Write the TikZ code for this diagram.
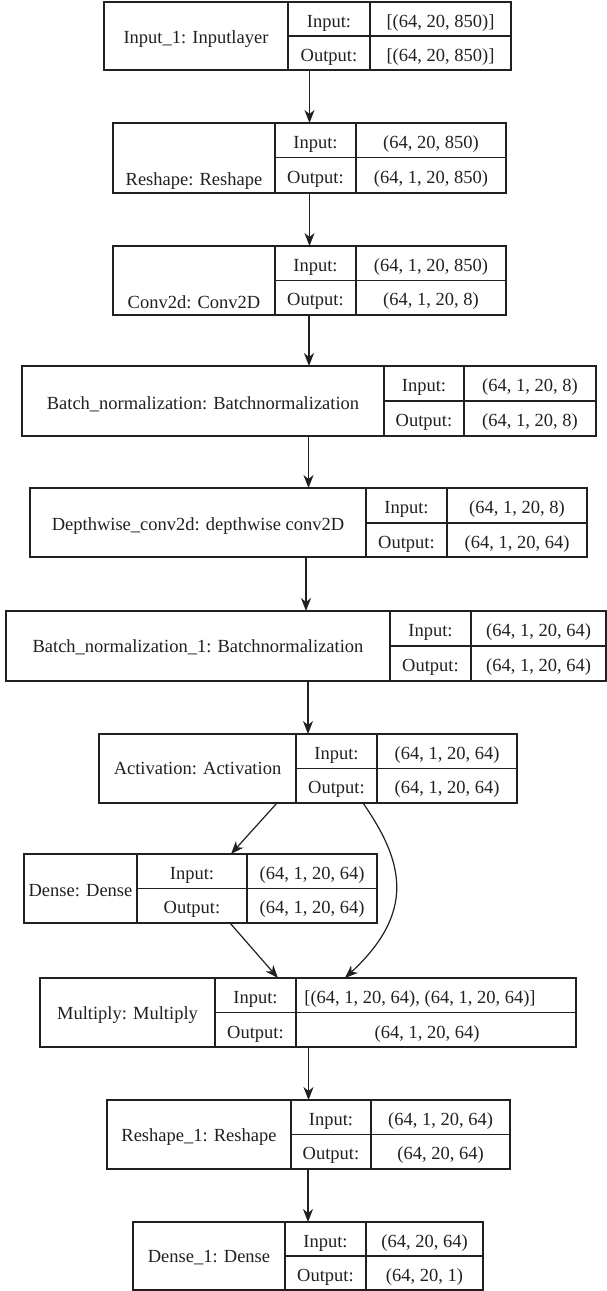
\documentclass[tikz,border=0pt]{standalone}
\usepackage{fontspec}
\setmainfont{Liberation Serif}
\usetikzlibrary{arrows.meta}
\definecolor{ink}{RGB}{35,31,32}
\tikzset{
  box/.style={rectangle, draw=ink, line width=1.3pt, inner sep=0pt, outer sep=0pt},
  cell/.style={draw=ink, line width=1.3pt},
  txt/.style={anchor=base, inner sep=0pt, outer sep=0pt, text=ink, font=\fontsize{18.5}{22}\selectfont},
  arr/.style={draw=ink, line width=1.2pt, -{Stealth[length=13pt,width=10pt,inset=4pt]}},
}
\newcommand{\lyrbox}[8]{%
  \def\lXa{#2}\def\lXb{#3}\def\lXc{#4}\def\lXd{#5}\def\lYa{#6}\def\lYm{#7}\def\lYb{#8}%
  \pgfmathsetmacro{\lyrW}{#5-#2}\pgfmathsetmacro{\lyrH}{#8-#6}%
  \node[box, minimum width=\lyrW pt, minimum height=\lyrH pt] (#1) at ({(#2+#5)/2},{(#6+#8)/2}) {};
  \draw[cell] (#3,#6) -- (#3,#8) (#4,#6) -- (#4,#8) (#3,#7) -- (#5,#7);
}
\newcommand{\lyrtext}[5]{%
  \node[txt] (#1t) at ({(\lXa+\lXb)/2},#2) {#3};
  \node[txt] (#1il) at ({(\lXb+\lXc)/2},{(\lYa+\lYm)/2+8}) {Input:};
  \node[txt] (#1ol) at ({(\lXb+\lXc)/2},{(\lYm+\lYb)/2+8}) {Output:};
  \node[txt] (#1iv) at ({(\lXc+\lXd)/2},{(\lYa+\lYm)/2+8}) {#4};
  \node[txt] (#1ov) at ({(\lXc+\lXd)/2},{(\lYm+\lYb)/2+8}) {#5};
}
\begin{document}
\begin{tikzpicture}[x=1pt,y=-1pt]
\useasboundingbox (0,0) rectangle (607,1291);

\lyrbox{L1}{104}{288}{370}{511}{2}{36}{70}
\lyrtext{L1}{43}{Input\_1: Inputlayer}{[(64, 20, 850)]}{[(64, 20, 850)]}

\lyrbox{L2}{113}{275}{356}{506}{123}{157.5}{193}
\lyrtext{L2}{185.5}{Reshape: Reshape}{(64, 20, 850)}{(64, 1, 20, 850)}

\lyrbox{L3}{113}{275}{356}{506}{246}{280.5}{315}
\lyrtext{L3}{308}{Conv2d: Conv2D}{(64, 1, 20, 850)}{(64, 1, 20, 8)}

\lyrbox{L4}{22}{384}{464}{596}{366}{401}{436}
\lyrtext{L4}{409}{Batch\_normalization: Batchnormalization}{(64, 1, 20, 8)}{(64, 1, 20, 8)}

\lyrbox{L5}{30}{366}{447}{587}{488}{523}{557}
\lyrtext{L5}{530}{Depthwise\_conv2d: depthwise conv2D}{(64, 1, 20, 8)}{(64, 1, 20, 64)}

\lyrbox{L6}{6}{390}{471}{606}{611}{646}{681}
\lyrtext{L6}{652}{Batch\_normalization\_1: Batchnormalization}{(64, 1, 20, 64)}{(64, 1, 20, 64)}

\lyrbox{L7}{99}{296}{377}{517}{734}{768.5}{803}
\lyrtext{L7}{774}{Activation: Activation}{(64, 1, 20, 64)}{(64, 1, 20, 64)}

\lyrbox{L8}{24}{137}{247}{377}{854}{888.5}{923}
\lyrtext{L8}{896}{Dense: Dense}{(64, 1, 20, 64)}{(64, 1, 20, 64)}

\lyrbox{L9}{40}{215}{296}{576}{978}{1012.5}{1047}
\node[txt] (L9t) at (127.5,1019) {Multiply: Multiply};
\node[txt] (L9il) at (255.5,1003) {Input:};
\node[txt] (L9ol) at (255.5,1038) {Output:};
\node[txt] (L9iv) at (420,1003) {[(64, 1, 20, 64), (64, 1, 20, 64)]};
\node[txt] (L9ov) at (427,1038) {(64, 1, 20, 64)};

\lyrbox{L10}{107}{291}{371}{510}{1100}{1134.5}{1169}
\lyrtext{L10}{1141}{Reshape\_1: Reshape}{(64, 1, 20, 64)}{(64, 20, 64)}

\lyrbox{L11}{133}{285}{366}{483}{1222}{1256}{1290}
\lyrtext{L11}{1262}{Dense\_1: Dense}{(64, 20, 64)}{(64, 20, 1)}

% connectors
\draw[arr] (L1.south -| L2.north) -- (L2.north);
\draw[arr] (L2.south -| L3.north) -- (L3.north);
\draw[arr] (L3.south -| L4.north) -- (L4.north);
\draw[arr] (L4.south -| L5.north) -- (L5.north);
\draw[arr] (L5.south -| L6.north) -- (L6.north);
\draw[arr] (L6.south -| L7.north) -- (L7.north);
\draw[arr] ([xshift=178pt]L7.south west) -- ([xshift=207pt]L8.north west);
\draw[arr] ([xshift=206pt]L8.south west) -- ([xshift=238pt]L9.north west);
\draw[arr] ([xshift=264pt]L7.south west) .. controls +(41,59) and +(71,-66) .. ([xshift=305pt]L9.north west);
\draw[arr] (L9.south -| L10.north) -- (L10.north);
\draw[arr] (L10.south -| L11.north) -- (L11.north);
\end{tikzpicture}
\end{document}
